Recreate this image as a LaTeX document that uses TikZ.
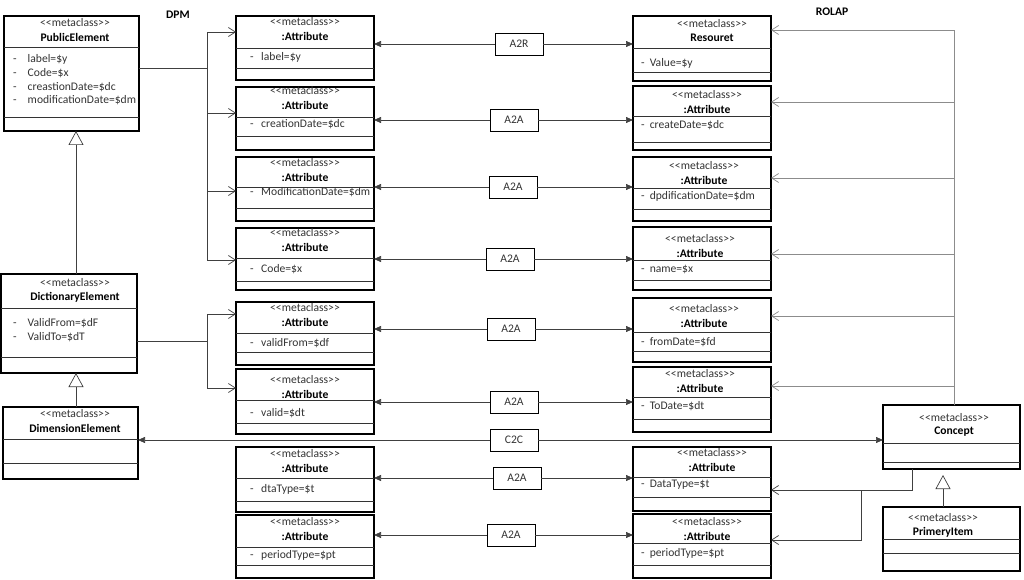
\documentclass[tikz,border=0pt]{standalone}
\usepackage{fontspec}
\setmainfont{Carlito}
\usetikzlibrary{arrows.meta}
\newcommand{\fs}{\fontsize{11.6}{13}\selectfont}
\newcommand{\stereo}{<{}<metaclass>{}>}
\tikzstyle{cls}=[draw=black,line width=1.1pt,inner sep=0pt,outer sep=0pt,minimum width=138pt]
\tikzstyle{divl}=[black!80,line width=.7pt]
\tikzstyle{hdr}=[inner sep=0pt,text=black!80,font=\fs]
\tikzstyle{nm}=[inner sep=0pt,font=\fs\bfseries]
\tikzstyle{att}=[inner sep=0pt,anchor=west,text=black!80,font=\fs]
\tikzstyle{lbl}=[draw,line width=.9pt,minimum width=48pt,minimum height=22pt,inner sep=0pt,text=black!80,font=\fs]
\tikzstyle{lnk}=[black!75,line width=.7pt]
\tikzstyle{fil}=[lnk,-{Triangle[length=7pt,width=6pt]}]
\tikzstyle{opn}=[lnk,-{Straight Barb[length=7pt,width=9pt]}]
\tikzstyle{gen}=[lnk,-{Triangle[open,length=14pt,width=15pt,fill=white]}]
\begin{document}
\begin{tikzpicture}[x=1pt,y=-1pt]
\useasboundingbox (0,0) rectangle (1024,580);
\node[nm] (dpm) at (178,15) {DPM};
\node[nm] (rolap) at (832,12) {ROLAP};
% classes
\foreach \n/\cx/\cy/\w/\h/\hx/\hy/\nam/\sa/\sb in {pub/71.5/73.5/135/115/75/23/PublicElement/47/117, dict/69/323.5/136/99/75/283/DictionaryElement/308/357, dim/70.5/443/135/72/75/414/DimensionElement/439/463, con/951.5/437/137/64/954/418/Concept/443/462, prim/951.5/539/137/64/943/518/PrimeryItem/539/553} {
  \node[cls,minimum width=\w pt,minimum height=\h pt] (\n) at (\cx,\cy) {};
  \node[hdr] (\n-s) at (\hx,\hy) {\stereo};
  \node[nm] (\n-n) at (\hx,{\hy+14}) {\nam};
  \draw[divl] (\n.west |- 0,\sa) -- (\n.east |- 0,\sa) (\n.west |- 0,\sb) -- (\n.east |- 0,\sb);}
\foreach \y/\txt in {59/label=\$y, 73/Code=\$x, 87/creastionDate=\$dc, 100/modificationDate=\$dm}
  \node[att] (pub-\y) at (13,\y) {-\hspace{11pt}\txt};
\foreach \y/\txt in {323/ValidFrom=\$dF, 337/ValidTo=\$dT}
  \node[att] (dict-\y) at (13,\y) {-\hspace{11pt}\txt};
% DPM attributes
\foreach \n/\t/\hy/\sa/\ay/\sb/\b/\txt in {a1/16/22/48/57/68/80/label=\$y, a2/87/91/117/124/136/150/creationDate=\$dc, a3/157/163/187/192/208/221/ModificationDate=\$dm, a4/228/233/258/269/281/290/Code=\$x, a5/302/308/333/343/352/365/validFrom=\$df, a6/369/380/400/413/423/434/valid=\$dt, a7/447/454/478/489/501/512/dtaType=\$t, a8/515/522/547/555/565/578/periodType=\$pt} {
  \node[cls,minimum height={(\b-\t)*1pt}] (\n) at (305,{(\t+\b)/2}) {};
  \node[hdr] (\n-s) at (305,\hy) {\stereo};
  \node[nm] (\n-n) at (305,{\hy+14}) {:Attribute};
  \draw[divl] (236,\sa) -- (374,\sa) (236,\sb) -- (374,\sb);
  \node[att] (\n-a) at (250,\ay) {-\hspace{7.5pt}\txt};}
% ROLAP attributes
\foreach \n/\t/\hx/\hy/\nam/\sa/\ay/\sb/\b/\txt in {b1/16/712/24/Resouret/48/63/72/81/Value=\$y, b2/86/707/95/:Attribute/116/125/142/150/createDate=\$dc, b3/157/704/166/:Attribute/188/196/209/221/dpdificationDate=\$dm, b4/227/700/239/:Attribute/260/269/280/290/name=\$x, b5/298/704/309/:Attribute/332/342/351/362/fromDate=\$fd, b6/367/700/374/:Attribute/397/406/419/432/ToDate=\$dt, b7/447/712/453/:Attribute/477/485/497/511/DataType=\$t, b8/514/707/522/:Attribute/543/553/565/578/periodType=\$pt} {
  \node[cls,minimum height={(\b-\t)*1pt}] (\n) at (702,{(\t+\b)/2}) {};
  \node[hdr] (\n-s) at (\hx,\hy) {\stereo};
  \node[nm] (\n-n) at (\hx,{\hy+14}) {\nam};
  \draw[divl] (633,\sa) -- (771,\sa) (633,\sb) -- (771,\sb);
  \node[att] (\n-a) at (641,\ay) {-\hspace{5pt}\txt};}
% mappings
\foreach \n/\x/\y/\l/\a/\b in {m1/519/44/A2R/a1/b1, m2/514/120/A2A/a2/b2, m3/513/187/A2A/a3/b3, m4/510/259/A2A/a4/b4, m5/511/329/A2A/a5/b5, m6/514/402/A2A/a6/b6, m7/517/478/A2A/a7/b7, m8/511/535/A2A/a8/b8} {
  \node[lbl] (\n) at (\x,\y) {\l};
  \draw[fil] (\n.west) -- (\n.west -| \a.east);
  \draw[fil] (\n.east) -- (\n.east -| \b.west);}
\node[lbl] (c2c) at (514,440) {C2C};
\draw[fil] (c2c.west) -- (c2c.west -| dim.east);
\draw[fil] (c2c.east) -- (c2c.east -| con.west);
% trees
\coordinate (j1) at (207,68);
\draw[lnk] (pub.east |- j1) -- (j1);
\foreach \a/\y in {a1/32, a2/113, a3/191, a4/260} \draw[opn] (j1) |- (\a.west |- 0,\y);
\coordinate (j2) at (207,341);
\draw[lnk] (dict.east |- j2) -- (j2);
\foreach \a/\y in {a5/314, a6/388} \draw[opn] (j2) |- (\a.west |- 0,\y);
\coordinate (j3) at (954,405);
\foreach \b/\y in {b1/30, b2/102, b3/178, b4/254, b5/316, b6/386} \draw[opn,black!45] (j3) |- (\b.east |- 0,\y);
\coordinate (j4) at (912,490);
\coordinate (j5) at (861,490);
\draw[opn] (con.south -| j4) -- (j4) -- (b7.east |- j4);
\draw[opn] (j5) |- (b8.east |- 0,540);
% generalisation
\draw[gen] (dict.north -| 76,0) -- (pub.south -| 76,0);
\draw[gen] (dim.north -| 76,0) -- (dict.south -| 76,0);
\draw[gen,shorten >=6pt] (prim.north -| 943,0) -- (con.south -| 943,0);
\end{tikzpicture}
\end{document}
